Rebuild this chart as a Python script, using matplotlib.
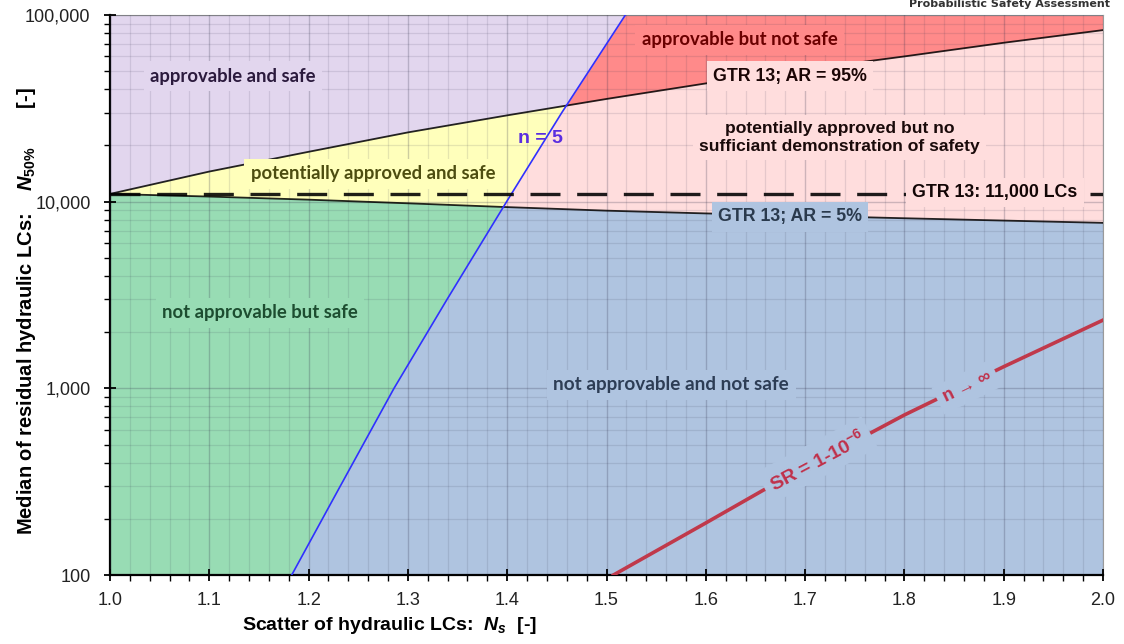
import matplotlib.pyplot as plt
import numpy as np
from matplotlib.ticker import FixedLocator, LogLocator, NullFormatter, FixedFormatter

plt.rcParams["mathtext.fontset"] = "custom"
plt.rcParams["mathtext.it"] = "Liberation Sans:italic:bold"
plt.rcParams["mathtext.rm"] = "Liberation Sans:bold"
plt.rcParams["mathtext.bf"] = "Liberation Sans:bold"

# scatter values where the GTR 13 approval-rate curves were read
ns_grid = [1.0, 1.1, 1.2, 1.3, 1.4, 1.5, 1.6, 1.7, 1.8, 1.9, 2.0]
ar95_n50 = [11000, 14500, 18500, 23500, 29000, 35500, 43000, 51000, 60000, 71000, 83000]
ar5_n50 = [11000, 10650, 10250, 9800, 9350, 8950, 8650, 8400, 8150, 7920, 7700]

# n = 5 border (sample size)
n5_ns = [1.183, 1.232, 1.286, 1.3395, 1.3994, 1.455, 1.519]
n5_n50 = [100, 300, 1000, 3000, 10000, 30000, 100000]

# survival rate SR = 1-1e-6 for n -> infinity
sr_ns = [1.507, 1.6, 1.658, 1.7, 1.8, 1.9, 2.0]
sr_n50 = [100, 190, 285, 375, 720, 1306, 2320]

gtr_lcs = 11000

y_ticks = [100, 1000, 10000, 100000]
y_tick_labels = ["100", "1,000", "10,000", "100,000"]
x_ticks = [1.0, 1.1, 1.2, 1.3, 1.4, 1.5, 1.6, 1.7, 1.8, 1.9, 2.0]

c_purple = "#e2d6ee"
c_red = "#ff8a8a"
c_yellow = "#ffffbb"
c_pink = "#ffdddd"
c_green = "#98dcb4"
c_steel = "#afc4e0"

fig = plt.figure(figsize=(11.24, 6.44), dpi=100)
ax = fig.add_axes([110 / 1124, 1 - 575 / 644, 993 / 1124, 560 / 644])

# regions, built from the curves above (log space)
xs = np.linspace(1.0, 2.0, 4001)
l95 = np.interp(xs, ns_grid, np.log10(ar95_n50))
l5 = np.interp(xs, ns_grid, np.log10(ar5_n50))
lb = np.interp(xs, n5_ns, np.log10(n5_n50))
top = np.full_like(xs, 5.0)
bot = np.full_like(xs, 2.0)


def band(lower, upper, color):
    ok = upper > lower
    ax.fill_between(xs, 10 ** lower, 10 ** upper, where=ok, interpolate=True,
                    facecolor=color, edgecolor=color, linewidth=0.4, zorder=0.5)


band(np.maximum(l95, lb), top, c_purple)
band(l95, np.minimum(lb, top), c_red)
band(np.maximum(l5, lb), l95, c_yellow)
band(l5, np.minimum(l95, lb), c_pink)
band(np.maximum(bot, lb), l5, c_green)
band(bot, np.minimum(l5, lb), c_steel)

ax.set_yscale("log")
ax.set_xlim(1.0, 2.0)
ax.set_ylim(100, 100000)

# grid above fills
ax.set_axisbelow(False)
ax.xaxis.set_major_locator(FixedLocator(x_ticks))
ax.xaxis.set_minor_locator(FixedLocator(np.arange(1.0, 2.001, 0.02)))
ax.yaxis.set_major_locator(FixedLocator(y_ticks))
ax.yaxis.set_major_formatter(FixedFormatter(y_tick_labels))
ax.yaxis.set_minor_locator(LogLocator(base=10, subs=np.arange(2, 10)))
ax.yaxis.set_minor_formatter(NullFormatter())
ax.xaxis.set_major_formatter(FixedFormatter([f"{v:.1f}" for v in x_ticks]))
ax.grid(which="major", color="#30304a", alpha=0.24, linewidth=1.0)
ax.grid(which="minor", color="#30304a", alpha=0.12, linewidth=0.9)

ax.tick_params(which="major", direction="inout", length=8, width=1.3, labelsize=13,
               colors="black")
ax.tick_params(axis="y", which="major", pad=10)
ax.tick_params(axis="x", which="major", pad=8)
ax.tick_params(which="minor", direction="out", length=4, width=1.0)
for lab in ax.get_xticklabels() + ax.get_yticklabels():
    lab.set_fontfamily("Liberation Sans")
    lab.set_color("#222222")

ax.spines["left"].set_linewidth(1.6)
ax.spines["bottom"].set_linewidth(1.6)
ax.spines["top"].set_color("#9a9a9a")
ax.spines["right"].set_color("#9a9a9a")

# curves
ax.plot(ns_grid, ar95_n50, color="black", alpha=0.85, linewidth=1.3, zorder=3)
ax.plot(ns_grid, ar5_n50, color="black", alpha=0.85, linewidth=1.3, zorder=3)
ax.plot(n5_ns, n5_n50, color="#3030ff", linewidth=1.2, zorder=3)
ax.plot(sr_ns, sr_n50, color="#c0394b", linewidth=2.6, zorder=3)
ax.axhline(gtr_lcs, color="black", alpha=0.88, linewidth=2.4, dashes=(9, 5), zorder=3)

cal = "Lato"
ari = "Liberation Sans"


def label(x, y, s, color, bg=None, family=cal, size=13.3, **kw):
    box = None
    if bg is not None:
        box = dict(boxstyle="square,pad=0.35", facecolor=bg, edgecolor="none")
    ax.text(x, y, s, color=color, fontsize=size, fontweight="bold", family=family,
            ha="center", va="center", bbox=box, zorder=5, **kw)


label(1.124, 47100, "approvable and safe", "#2b1a3d", c_purple)
label(1.634, 73500, "approvable but not safe", "#6b0000", c_red)
label(1.685, 47100, "GTR 13; AR = 95%", "#1a0505", c_pink, family=ari, size=12.8)
label(1.735, 22100, "potentially approved but no\nsufficiant demonstration of safety",
      "#1a0a0a", c_pink, family=ari, size=12.6, linespacing=1.25)
label(1.433, 21900, "n = 5", "#5a2de0", None, family=ari, size=14)
label(1.265, 14100, "potentially approved and safe", "#4d4d10", c_yellow)
label(1.891, 11200, "GTR 13: 11,000 LCs", "#120505", c_pink, family=ari, size=12.8)
label(1.685, 8280, "GTR 13; AR = 5%", "#2a3a4d", c_steel, family=ari, size=12.8)
label(1.151, 2540, "not approvable but safe", "#1d4d30", c_green)
label(1.565, 1043, "not approvable and not safe", "#2d3d55", c_steel, size=13.6)
label(1.712, 413, r"SR = 1-10$^{\mathbf{-6}}$", "#c0304a", c_steel, family=ari,
      size=14, rotation=28, rotation_mode="anchor")
label(1.863, 1016, "n \u2192 \u221e", "#c0304a", c_steel, family=["Liberation Sans", "DejaVu Sans"],
      size=13, rotation=26, rotation_mode="anchor")

ax.set_ylabel(r"Median of residual hydraulic LCs:    $N_{50\%}$       [-]", fontsize=14.5,
              fontweight="bold", family=ari)
ax.yaxis.set_label_coords(-0.0725, 0.472)
fig.text(390 / 1124, 1 - 625 / 644, r"Scatter of hydraulic LCs:  $N_s$  [-]",
         fontsize=14, fontweight="bold", family=ari, ha="center", va="center")
fig.text(1110 / 1124, 1 - 4 / 644, "Probabilistic Safety Assessment", fontsize=8,
         fontweight="bold", family="DejaVu Sans", color="#333333", ha="right", va="center")

fig.savefig("out.png", dpi=100)
